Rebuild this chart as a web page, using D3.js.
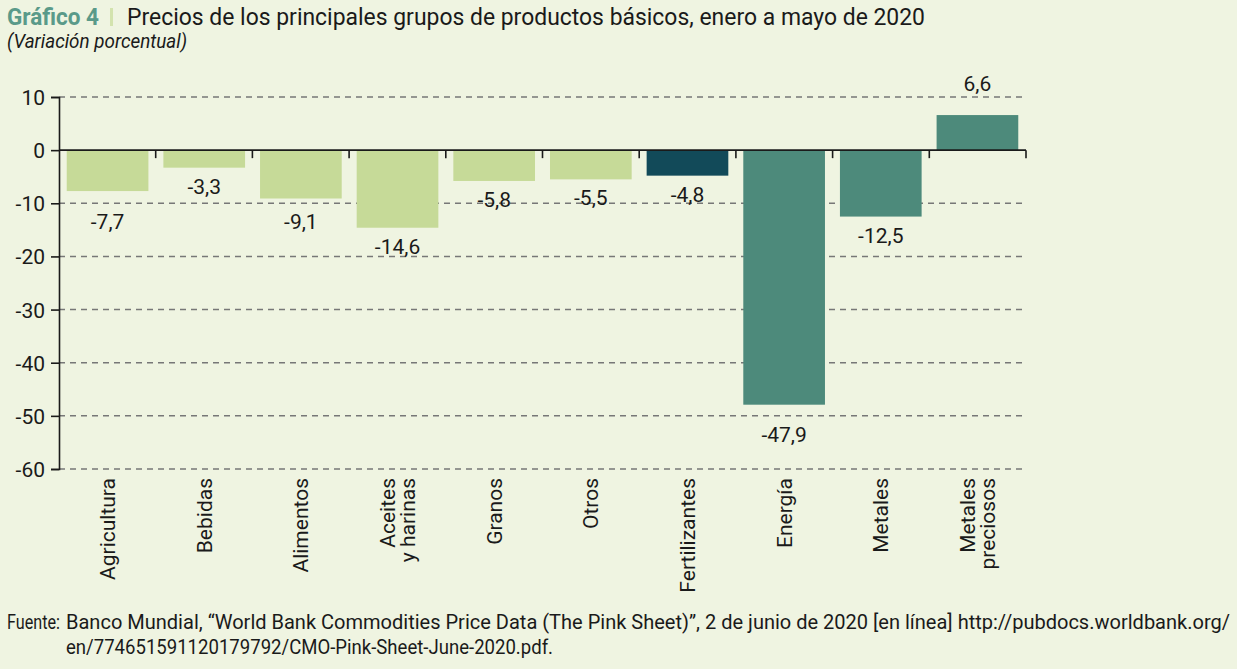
<!DOCTYPE html>
<html><head><meta charset="utf-8">
<script src="https://cdn.jsdelivr.net/npm/d3@7"></script>
<style>
body{margin:0;background:#eff4e1;}
svg{display:block;}
text{font-family:Roboto,"Liberation Sans",sans-serif;fill:#1a1a1a;}
</style></head>
<body>
<script>
const categories = ["Agricultura","Bebidas","Alimentos","Aceites|y harinas","Granos","Otros","Fertilizantes","Energía","Metales","Metales|preciosos"];
const values = [-7.7,-3.3,-9.1,-14.6,-5.8,-5.5,-4.8,-47.9,-12.5,6.6];
const groups = ["agro","agro","agro","agro","agro","agro","fert","energy","energy","energy"];
const yTicks = [10,0,-10,-20,-30,-40,-50,-60];
const title = "Precios de los principales grupos de productos básicos, enero a mayo de 2020";
const subtitle = "(Variación porcentual)";
const source1 = "Banco Mundial, “World Bank Commodities Price Data (The Pink Sheet)”, 2 de junio de 2020 [en línea] http://pubdocs.worldbank.org/";
const source2 = "en/774651591120179792/CMO-Pink-Sheet-June-2020.pdf.";

const W = 1237, H = 669;
const color = d3.scaleOrdinal().domain(["agro","fert","energy"]).range(["#c6da98","#124a59","#4d8a7b"]);
const svg = d3.select("body").append("svg").attr("width",W).attr("height",H);
svg.append("rect").attr("width",W).attr("height",H).attr("fill","#eff4e1");

const x = d3.scaleBand().domain(categories).range([59,1026]).paddingInner(0.155).paddingOuter(0.08);
const xb = d3.scaleLinear().domain([0,categories.length]).range([59,1026]);
const y = d3.scaleLinear().domain([-60,10]).range([469,97]);

// title
svg.append("text").attr("x",7).attr("y",25).style("font-size","23px").attr("font-weight","bold")
  .style("fill","#5a9a89").attr("textLength",92).attr("lengthAdjust","spacingAndGlyphs").text("Gráfico 4");
svg.append("rect").attr("x",110).attr("y",8).attr("width",3).attr("height",18).attr("fill","#d3e3ae");
svg.append("text").attr("x",127).attr("y",25).style("font-size","23px")
  .attr("textLength",798).attr("lengthAdjust","spacingAndGlyphs").text(title);
svg.append("text").attr("x",7).attr("y",48).style("font-size","20px").style("font-style","italic")
  .attr("textLength",180).attr("lengthAdjust","spacingAndGlyphs").text(subtitle);

// gridlines
svg.append("g").selectAll("line").data(yTicks.filter(d=>d!==0)).join("line")
  .attr("x1",59).attr("x2",1026).attr("y1",d=>y(d)).attr("y2",d=>y(d))
  .attr("stroke","#777").attr("stroke-width",1.5).attr("stroke-dasharray","6,5");

// bars
svg.append("g").selectAll("rect").data(values).join("rect")
  .attr("x",(d,i)=>x(categories[i])).attr("width",x.bandwidth())
  .attr("y",d=>y(Math.max(0,d))).attr("height",d=>Math.abs(y(d)-y(0)))
  .attr("fill",(d,i)=>color(groups[i]));

// y axis
const yAxis = d3.axisLeft(y).tickValues(yTicks).tickSize(8).tickFormat(d=>d);
const gy = svg.append("g").attr("transform","translate(59,0)").call(yAxis);
gy.select(".domain").attr("stroke","#1a1a1a").attr("stroke-width",1.6);
gy.selectAll(".tick line").attr("stroke","#1a1a1a").attr("stroke-width",1.6);
gy.selectAll(".tick text").attr("x",-14).attr("dy","0.36em").style("font-size","21px")
  .style("font-family","Roboto,sans-serif").attr("fill","#1a1a1a");

// zero line with ticks at band boundaries
svg.append("line").attr("x1",59).attr("x2",1026).attr("y1",y(0)).attr("y2",y(0)).attr("stroke","#1a1a1a").attr("stroke-width",1.8);
svg.append("g").selectAll("line").data(d3.range(1,categories.length+1)).join("line")
  .attr("x1",d=>xb(d)).attr("x2",d=>xb(d)).attr("y1",y(0)).attr("y2",y(0)+8)
  .attr("stroke","#1a1a1a").attr("stroke-width",1.6);

// value labels (pushed below a gridline that runs right under the bar end)
const fmt = d=>d3.format(".1f")(d).replace(".",",").replace("−","-");
function labelY(d){
  if(d>=0) return y(d)-24;
  const end = y(d);
  const g = yTicks.filter(t=>t<0 && y(t)>=end && y(t)<=end+14);
  const base = g.length? y(g[0]) : end;
  return base+26;
}
svg.append("g").selectAll("text").data(values).join("text")
  .attr("x",(d,i)=>x(categories[i])+x.bandwidth()/2).attr("y",d=>labelY(d))
  .attr("text-anchor","middle").style("font-size","21px").text(d=>fmt(d));

// category labels
const cl = svg.append("g").selectAll("g").data(categories).join("g")
  .attr("transform",(d,i)=>`translate(${x(d)+x.bandwidth()/2},478) rotate(-90)`);
cl.each(function(d){
  const lines = d.split("|");
  const n = lines.length;
  d3.select(this).selectAll("text").data(lines).join("text")
    .attr("x",0).attr("y",(l,j)=>(j-(n-1)/2)*20).attr("dy","0.36em")
    .attr("text-anchor","end").style("font-size","21px").text(l=>l);
});

// source
svg.append("text").attr("x",7).attr("y",629).style("font-size","20px")
  .attr("textLength",53).attr("lengthAdjust","spacingAndGlyphs").text("Fuente:");
svg.append("text").attr("x",66).attr("y",629).style("font-size","20px")
  .attr("textLength",1230-66).attr("lengthAdjust","spacingAndGlyphs").text(source1);
svg.append("text").attr("x",66).attr("y",654).style("font-size","20px")
  .attr("textLength",487).attr("lengthAdjust","spacingAndGlyphs").text(source2);
</script>
</body></html>
